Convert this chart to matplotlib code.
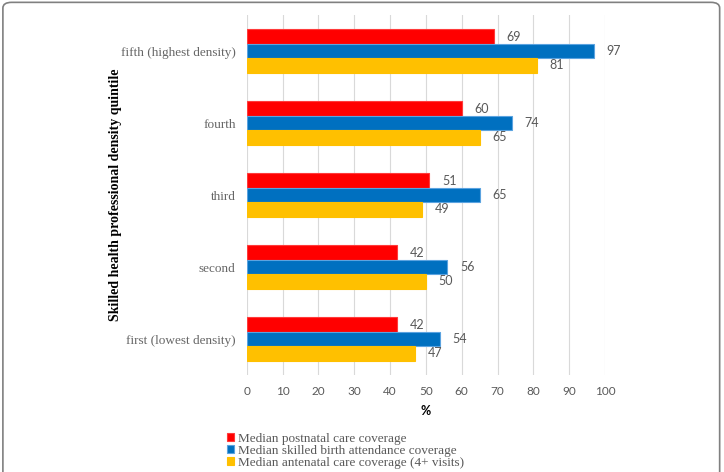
# Horizontal grouped bar chart: coverage by skilled health professional density quintile

import matplotlib.pyplot as plt
import numpy as np
from matplotlib.patches import FancyBboxPatch

categories = ["first (lowest density)", "second", "third", "fourth", "fifth (highest density)"]
postnatal = [42, 42, 51, 60, 69]
birth_attendance = [54, 56, 65, 74, 97]
antenatal = [47, 50, 49, 65, 81]
series_names = ["Median postnatal care coverage",
                "Median skilled birth attendance coverage",
                "Median antenatal care coverage (4+ visits)"]
x_ticks = [0, 10, 20, 30, 40, 50, 60, 70, 80, 90, 100]

colors = ["#FF0000", "#0070C0", "#FFC000"]
edges = ["#FF3B3B", "#5BA3E0", "#FFC000"]
gray = "#595959"
sans = "Lato"
serif = "Liberation Serif"

fig = plt.figure(figsize=(7.24, 4.72), dpi=100)
ax = fig.add_axes([0.3408, 0.2055, 0.4948, 0.7627])

# rounded frame around the whole figure
frame = FancyBboxPatch((0.004, -0.05), 0.99, 1.045, boxstyle="round,pad=0,rounding_size=0.012",
                       transform=fig.transFigure, fill=False, edgecolor="#808080", linewidth=1.2)
fig.patches.append(frame)

y = np.arange(len(categories))
h = 0.2
all_series = [postnatal, birth_attendance, antenatal]
for i, vals in enumerate(all_series):
    pos = y + h - i * h
    bars = ax.barh(pos, vals, height=h, color=colors[i], edgecolor=edges[i], linewidth=0.8,
                   label=series_names[i], zorder=3)
    for b, v in zip(bars, vals):
        ax.annotate(str(v), (v, b.get_y() + h / 2), xytext=(9, 0), textcoords="offset points",
                    va="center", ha="left", fontsize=9, color=gray, family=sans)

ax.set_xlim(0, 100)
ax.set_ylim(-0.5, len(categories) - 0.5)
ax.set_xticks(x_ticks)
ax.set_xticklabels([str(t) for t in x_ticks], family=sans, fontsize=8.5, color=gray)
ax.set_yticks(y)
ax.set_yticklabels(categories, family=serif, fontsize=9.5, color="#666666")
ax.tick_params(axis="both", length=0)
ax.tick_params(axis="x", pad=8)
ax.tick_params(axis="y", pad=8)
for s in ax.spines.values():
    s.set_visible(False)
ax.grid(axis="x", color="#D9D9D9", linewidth=0.8, zorder=0)
ax.set_axisbelow(True)

ax.set_xlabel("%", family=sans, fontsize=9, fontweight="bold", color="black", labelpad=6)
fig.text(0.159, 0.587, "Skilled health professional density quintile", rotation=90,
         ha="center", va="center", family=serif, fontsize=10, fontweight="bold", color="black")

leg = fig.legend(loc="upper left", bbox_to_anchor=(0.3135, 0.083), frameon=False,
                 prop={"family": serif, "size": 9.5}, handlelength=0.55, handleheight=0.55,
                 handletextpad=0.3, labelspacing=0.0, borderaxespad=0, borderpad=0)
for t in leg.get_texts():
    t.set_color(gray)

fig.savefig("out.png", dpi=100)
